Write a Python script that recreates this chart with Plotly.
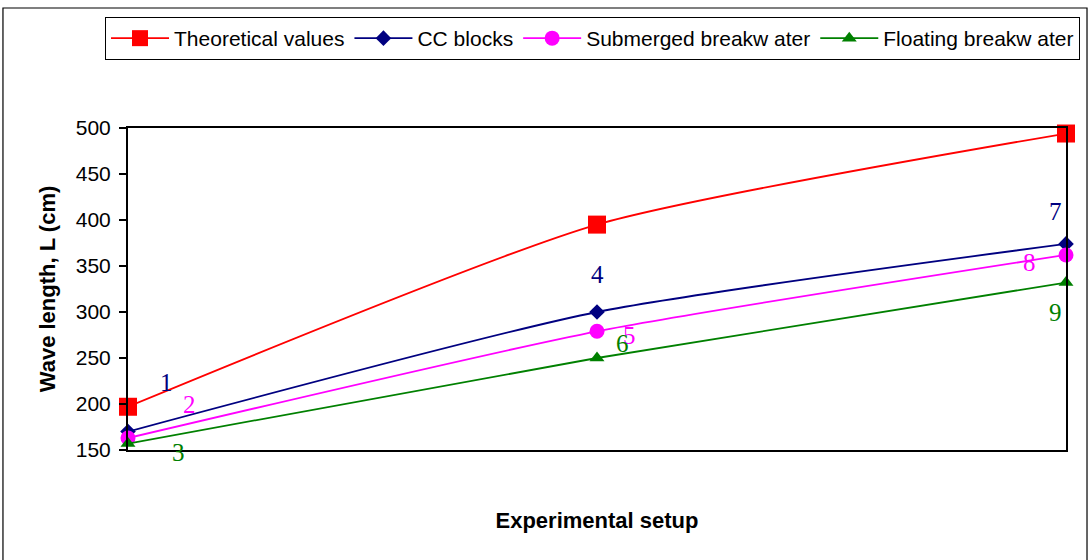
import plotly.graph_objects as go

# Three experimental setups along the x axis
setups = [1, 2, 3]

theoretical = [197, 395, 494]
cc_blocks = [170, 300, 374]
submerged = [163, 279, 362]
floating = [157, 250, 332]

series_names = ["Theoretical values", "CC blocks", "Submerged breakw ater", "Floating breakw ater"]
series_colors = ["#FF0000", "#000080", "#FF00FF", "#008000"]
series_symbols = ["square", "diamond", "circle", "triangle-up"]
series_sizes = [18, 12, 15, 13]

# Point numbering labels: text, position, colour index
label_text = ["1", "2", "3", "4", "5", "6", "7", "8", "9"]
label_x = [1.083, 1.132, 1.107, 2.002, 2.07, 2.055, 2.977, 2.923, 2.977]
label_y = [223, 199, 150, 341, 275, 266, 409, 354, 299]
label_shift = [0, 0, -2, 0, 0, 0, 0, 0, 0]
label_series = [1, 2, 3, 1, 2, 3, 1, 2, 3]

fig = go.Figure()
for name, vals, col, sym, sz in zip(series_names, [theoretical, cc_blocks, submerged, floating],
                                    series_colors, series_symbols, series_sizes):
    fig.add_trace(go.Scatter(
        x=setups, y=vals, name=name, mode="lines+markers",
        line=dict(color=col, width=1.8, shape="spline", smoothing=0.6),
        marker=dict(symbol=sym, size=sz, color=col, line=dict(width=0)),
        cliponaxis=False,
    ))

for t, lx, ly, sh, si in zip(label_text, label_x, label_y, label_shift, label_series):
    fig.add_annotation(x=lx, y=ly, yshift=sh, text=t, showarrow=False,
                       font=dict(family="Liberation Serif, Times New Roman, serif",
                                 size=25, color=series_colors[si]))

# Outer chart frame
fig.add_shape(type="rect", xref="paper", yref="paper",
              x0=-0.1333, x1=1.0224, y0=-0.36, y1=1.3727,
              line=dict(color="black", width=1.2), layer="below")

fig.update_layout(
    width=1089, height=560,
    margin=dict(l=128, r=23, t=128, b=110),
    paper_bgcolor="white", plot_bgcolor="white",
    font=dict(family="Liberation Sans, Arial, sans-serif", size=18, color="black"),
    showlegend=True,
    legend=dict(orientation="h", x=-0.0245, y=1.3447, xanchor="left", yanchor="top",
                bordercolor="black", borderwidth=1, bgcolor="white",
                font=dict(size=21), itemwidth=58),
    xaxis=dict(range=[1, 3], showticklabels=False, ticks="", showgrid=False,
               zeroline=False, showline=True, linecolor="black", linewidth=2, mirror=True,
               title=dict(text="<b>Experimental setup</b>", standoff=62,
                          font=dict(size=22))),
    yaxis=dict(range=[150, 500], dtick=50, showgrid=False, zeroline=False,
               showline=True, linecolor="black", linewidth=2, mirror=True,
               ticks="outside", ticklen=7, tickcolor="black", tickwidth=1.5,
               ticklabelstandoff=4,
               tickfont=dict(size=21),
               title=dict(text="<b>Wave length, L (cm)</b>", standoff=14,
                          font=dict(size=22))),
)

fig.write_html("out.html")
